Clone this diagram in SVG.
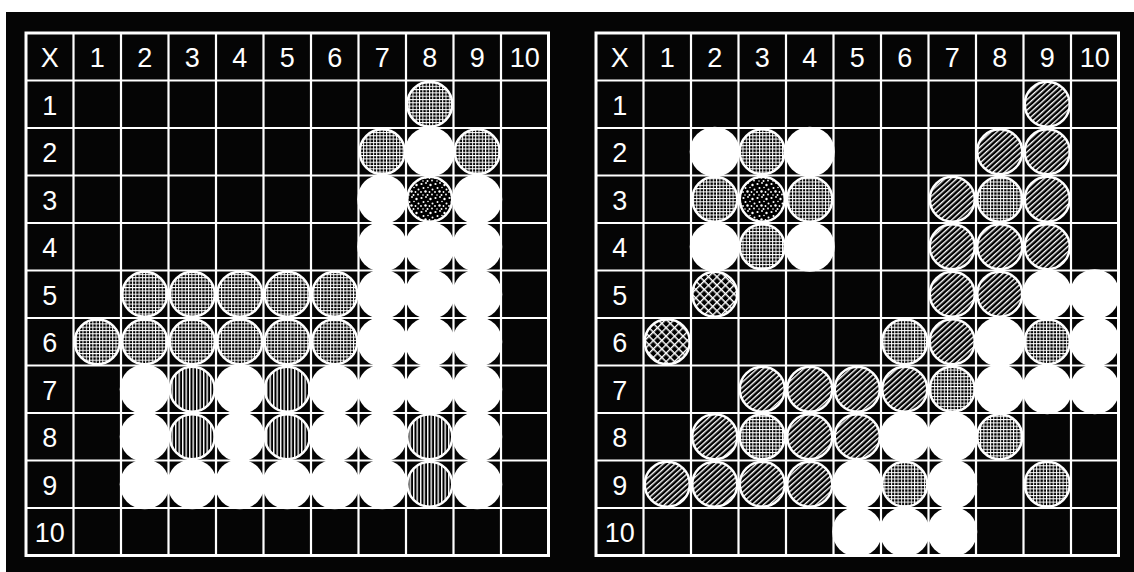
<svg xmlns="http://www.w3.org/2000/svg" width="1134" height="572" viewBox="0 0 1134 572">
<defs>
<pattern id="pg" width="3.3" height="3.3" patternUnits="userSpaceOnUse"><rect width="3.3" height="3.3" fill="#000"/><path d="M0 0.5H3.3M0.5 0V3.3" stroke="#fff" stroke-width="1"/></pattern>
<pattern id="pv" width="3.5" height="4" patternUnits="userSpaceOnUse"><rect width="3.5" height="4" fill="#000"/><rect width="1.4" height="4" fill="#fff"/></pattern>
<pattern id="pd" width="3.9" height="4" patternUnits="userSpaceOnUse" patternTransform="rotate(48)"><rect width="3.9" height="4" fill="#000"/><rect width="1.4" height="4" fill="#fff"/></pattern>
<pattern id="px" width="6" height="6" patternUnits="userSpaceOnUse" patternTransform="rotate(45)"><rect width="6" height="6" fill="#000"/><path d="M0 0.7H6M0.7 0V6" stroke="#fff" stroke-width="1.4"/></pattern>
<pattern id="pdot" width="14" height="14" patternUnits="userSpaceOnUse"><rect width="14" height="14" fill="#000"/><g fill="#fff"><circle cx="1.5" cy="2" r="1.1"/><circle cx="6" cy="1" r="0.9"/><circle cx="10.5" cy="3" r="1.2"/><circle cx="3.5" cy="6" r="1"/><circle cx="8" cy="5.5" r="0.8"/><circle cx="12.5" cy="7.5" r="1"/><circle cx="1" cy="10" r="0.9"/><circle cx="5.5" cy="9.5" r="1.2"/><circle cx="9.5" cy="10" r="0.9"/><circle cx="3" cy="13" r="0.8"/><circle cx="7.5" cy="13" r="1"/><circle cx="12" cy="12.5" r="0.9"/></g></pattern>
</defs>
<style>
.grid{fill:none;stroke:#fff;stroke-width:2.2}
.frame{fill:none;stroke:#fff;stroke-width:3}
.lbl{font-family:"Liberation Sans",Arial,sans-serif;font-size:27px;fill:#fff;text-anchor:middle}
.w{fill:#fff}
.p{stroke:#fff;stroke-width:2.5}
.g{fill:url(#pg)}
.v{fill:url(#pv)}
.d{fill:url(#pd)}
.x{fill:url(#px)}
.t{fill:url(#pdot)}
</style>
<rect width="1134" height="572" fill="#fff"/>
<rect x="6" y="12" width="1128" height="560" fill="#050505"/>

<g id="board-left">
<path class="grid" d="M73.5 33V555.5M121 33V555.5M168.5 33V555.5M216 33V555.5M263.5 33V555.5M311 33V555.5M358.5 33V555.5M406 33V555.5M453.5 33V555.5M501 33V555.5M26 80.5H548.5M26 128H548.5M26 175.5H548.5M26 223H548.5M26 270.5H548.5M26 318H548.5M26 365.5H548.5M26 413H548.5M26 460.5H548.5M26 508H548.5"/>
<rect class="frame" x="26" y="33" width="522.5" height="522.5"/>
<g id="left-labels" class="lbl">
<text x="49.75" y="67">X</text><text x="97.25" y="67">1</text><text x="144.75" y="67">2</text><text x="192.25" y="67">3</text><text x="239.75" y="67">4</text><text x="287.25" y="67">5</text><text x="334.75" y="67">6</text><text x="382.25" y="67">7</text><text x="429.75" y="67">8</text><text x="477.25" y="67">9</text><text x="524.75" y="67">10</text>
<text x="49.75" y="114.5">1</text><text x="49.75" y="162">2</text><text x="49.75" y="209.5">3</text><text x="49.75" y="257">4</text><text x="49.75" y="304.5">5</text><text x="49.75" y="352">6</text><text x="49.75" y="399.5">7</text><text x="49.75" y="447">8</text><text x="49.75" y="494.5">9</text><text x="49.75" y="542">10</text>
</g>
<g id="left-white">
<circle class="w" cx="429.75" cy="151.75" r="25"/>
<circle class="w" cx="382.25" cy="199.25" r="25"/><circle class="w" cx="477.25" cy="199.25" r="25"/>
<circle class="w" cx="382.25" cy="246.75" r="25"/><circle class="w" cx="429.75" cy="246.75" r="25"/><circle class="w" cx="477.25" cy="246.75" r="25"/>
<circle class="w" cx="382.25" cy="294.25" r="25"/><circle class="w" cx="429.75" cy="294.25" r="25"/><circle class="w" cx="477.25" cy="294.25" r="25"/>
<circle class="w" cx="382.25" cy="341.75" r="25"/><circle class="w" cx="429.75" cy="341.75" r="25"/><circle class="w" cx="477.25" cy="341.75" r="25"/>
<circle class="w" cx="144.75" cy="389.25" r="25"/><circle class="w" cx="239.75" cy="389.25" r="25"/><circle class="w" cx="334.75" cy="389.25" r="25"/><circle class="w" cx="382.25" cy="389.25" r="25"/><circle class="w" cx="429.75" cy="389.25" r="25"/><circle class="w" cx="477.25" cy="389.25" r="25"/>
<circle class="w" cx="144.75" cy="436.75" r="25"/><circle class="w" cx="239.75" cy="436.75" r="25"/><circle class="w" cx="334.75" cy="436.75" r="25"/><circle class="w" cx="382.25" cy="436.75" r="25"/><circle class="w" cx="477.25" cy="436.75" r="25"/>
<circle class="w" cx="144.75" cy="484.25" r="25"/><circle class="w" cx="192.25" cy="484.25" r="25"/><circle class="w" cx="239.75" cy="484.25" r="25"/><circle class="w" cx="287.25" cy="484.25" r="25"/><circle class="w" cx="334.75" cy="484.25" r="25"/><circle class="w" cx="382.25" cy="484.25" r="25"/><circle class="w" cx="477.25" cy="484.25" r="25"/>
</g>
<g id="left-patterned">
<circle class="p g" cx="429.75" cy="104.25" r="22.5"/>
<circle class="p g" cx="382.25" cy="151.75" r="22.5"/><circle class="p g" cx="477.25" cy="151.75" r="22.5"/>
<circle class="p t" cx="429.75" cy="199.25" r="22.5"/>
<circle class="p g" cx="144.75" cy="294.25" r="22.5"/><circle class="p g" cx="192.25" cy="294.25" r="22.5"/><circle class="p g" cx="239.75" cy="294.25" r="22.5"/><circle class="p g" cx="287.25" cy="294.25" r="22.5"/><circle class="p g" cx="334.75" cy="294.25" r="22.5"/>
<circle class="p g" cx="97.25" cy="341.75" r="22.5"/><circle class="p g" cx="144.75" cy="341.75" r="22.5"/><circle class="p g" cx="192.25" cy="341.75" r="22.5"/><circle class="p g" cx="239.75" cy="341.75" r="22.5"/><circle class="p g" cx="287.25" cy="341.75" r="22.5"/><circle class="p g" cx="334.75" cy="341.75" r="22.5"/>
<circle class="p v" cx="192.25" cy="389.25" r="22.5"/><circle class="p v" cx="287.25" cy="389.25" r="22.5"/>
<circle class="p v" cx="192.25" cy="436.75" r="22.5"/><circle class="p v" cx="287.25" cy="436.75" r="22.5"/><circle class="p v" cx="429.75" cy="436.75" r="22.5"/>
<circle class="p v" cx="429.75" cy="484.25" r="22.5"/>
</g>
</g>

<g id="board-right">
<path class="grid" d="M643.5 33V555.5M691 33V555.5M738.5 33V555.5M786 33V555.5M833.5 33V555.5M881 33V555.5M928.5 33V555.5M976 33V555.5M1023.5 33V555.5M1071 33V555.5M596 80.5H1118.5M596 128H1118.5M596 175.5H1118.5M596 223H1118.5M596 270.5H1118.5M596 318H1118.5M596 365.5H1118.5M596 413H1118.5M596 460.5H1118.5M596 508H1118.5"/>
<rect class="frame" x="596" y="33" width="522.5" height="522.5"/>
<g id="right-labels" class="lbl">
<text x="619.75" y="67">X</text><text x="667.25" y="67">1</text><text x="714.75" y="67">2</text><text x="762.25" y="67">3</text><text x="809.75" y="67">4</text><text x="857.25" y="67">5</text><text x="904.75" y="67">6</text><text x="952.25" y="67">7</text><text x="999.75" y="67">8</text><text x="1047.25" y="67">9</text><text x="1094.75" y="67">10</text>
<text x="619.75" y="114.5">1</text><text x="619.75" y="162">2</text><text x="619.75" y="209.5">3</text><text x="619.75" y="257">4</text><text x="619.75" y="304.5">5</text><text x="619.75" y="352">6</text><text x="619.75" y="399.5">7</text><text x="619.75" y="447">8</text><text x="619.75" y="494.5">9</text><text x="619.75" y="542">10</text>
</g>
<g id="right-white">
<circle class="w" cx="714.75" cy="151.75" r="25"/><circle class="w" cx="809.75" cy="151.75" r="25"/>
<circle class="w" cx="714.75" cy="246.75" r="25"/><circle class="w" cx="809.75" cy="246.75" r="25"/>
<circle class="w" cx="1047.25" cy="294.25" r="25"/><circle class="w" cx="1094.75" cy="294.25" r="25"/>
<circle class="w" cx="999.75" cy="341.75" r="25"/><circle class="w" cx="1094.75" cy="341.75" r="25"/>
<circle class="w" cx="999.75" cy="389.25" r="25"/><circle class="w" cx="1047.25" cy="389.25" r="25"/><circle class="w" cx="1094.75" cy="389.25" r="25"/>
<circle class="w" cx="904.75" cy="436.75" r="25"/><circle class="w" cx="952.25" cy="436.75" r="25"/>
<circle class="w" cx="857.25" cy="484.25" r="25"/><circle class="w" cx="952.25" cy="484.25" r="25"/>
<circle class="w" cx="857.25" cy="531.75" r="25"/><circle class="w" cx="904.75" cy="531.75" r="25"/><circle class="w" cx="952.25" cy="531.75" r="25"/>
</g>
<g id="right-patterned">
<circle class="p d" cx="1047.25" cy="104.25" r="22.5"/>
<circle class="p g" cx="762.25" cy="151.75" r="22.5"/><circle class="p d" cx="999.75" cy="151.75" r="22.5"/><circle class="p d" cx="1047.25" cy="151.75" r="22.5"/>
<circle class="p g" cx="714.75" cy="199.25" r="22.5"/><circle class="p t" cx="762.25" cy="199.25" r="22.5"/><circle class="p g" cx="809.75" cy="199.25" r="22.5"/><circle class="p d" cx="952.25" cy="199.25" r="22.5"/><circle class="p g" cx="999.75" cy="199.25" r="22.5"/><circle class="p d" cx="1047.25" cy="199.25" r="22.5"/>
<circle class="p g" cx="762.25" cy="246.75" r="22.5"/><circle class="p d" cx="952.25" cy="246.75" r="22.5"/><circle class="p d" cx="999.75" cy="246.75" r="22.5"/><circle class="p d" cx="1047.25" cy="246.75" r="22.5"/>
<circle class="p x" cx="714.75" cy="294.25" r="22.5"/><circle class="p d" cx="952.25" cy="294.25" r="22.5"/><circle class="p d" cx="999.75" cy="294.25" r="22.5"/>
<circle class="p x" cx="667.25" cy="341.75" r="22.5"/><circle class="p g" cx="904.75" cy="341.75" r="22.5"/><circle class="p d" cx="952.25" cy="341.75" r="22.5"/><circle class="p g" cx="1047.25" cy="341.75" r="22.5"/>
<circle class="p d" cx="762.25" cy="389.25" r="22.5"/><circle class="p d" cx="809.75" cy="389.25" r="22.5"/><circle class="p d" cx="857.25" cy="389.25" r="22.5"/><circle class="p d" cx="904.75" cy="389.25" r="22.5"/><circle class="p g" cx="952.25" cy="389.25" r="22.5"/>
<circle class="p d" cx="714.75" cy="436.75" r="22.5"/><circle class="p g" cx="762.25" cy="436.75" r="22.5"/><circle class="p d" cx="809.75" cy="436.75" r="22.5"/><circle class="p d" cx="857.25" cy="436.75" r="22.5"/><circle class="p g" cx="999.75" cy="436.75" r="22.5"/>
<circle class="p d" cx="667.25" cy="484.25" r="22.5"/><circle class="p d" cx="714.75" cy="484.25" r="22.5"/><circle class="p d" cx="762.25" cy="484.25" r="22.5"/><circle class="p d" cx="809.75" cy="484.25" r="22.5"/><circle class="p g" cx="904.75" cy="484.25" r="22.5"/><circle class="p g" cx="1047.25" cy="484.25" r="22.5"/>
</g>
</g>
</svg>
